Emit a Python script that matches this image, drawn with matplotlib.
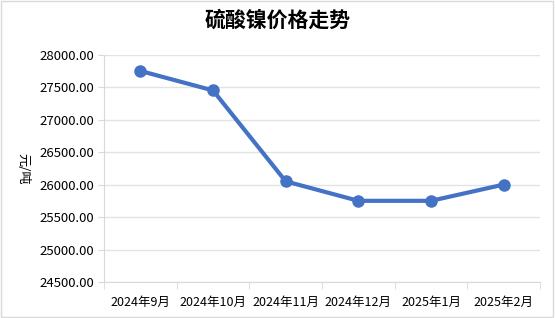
import matplotlib.pyplot as plt
from matplotlib.patches import Rectangle

plt.rcParams['font.family'] = ['Noto Sans CJK SC', 'DejaVu Sans']

months = ["2024年9月", "2024年10月", "2024年11月", "2024年12月", "2025年1月", "2025年2月"]
prices = [27750, 27450, 26050, 25750, 25750, 26000]
yticks = [24500, 25000, 25500, 26000, 26500, 27000, 27500, 28000]

fig = plt.figure(figsize=(5.55, 3.18), dpi=100)
ax = fig.add_axes([104 / 555, 1 - 282 / 318, 436 / 555, (282 - 54.7) / 318])

x = list(range(len(months)))
ax.plot(x, prices, color="#4472C4", linewidth=3, marker="o", markersize=8, zorder=3)

ax.set_xlim(-0.5, len(months) - 0.5)
ax.set_ylim(24500, 28000)
ax.set_yticks(yticks)
ax.set_yticklabels([f"{v:.2f}" for v in yticks], fontsize=9.5)
ax.set_xticks(x)
ax.set_xticklabels(months, fontsize=9)
ax.set_xticks([i - 0.5 for i in range(len(months) + 1)], minor=True)
ax.tick_params(axis="x", which="major", length=0, pad=10)
ax.tick_params(axis="x", which="minor", length=5, color="#d9d9d9")
ax.tick_params(axis="y", length=4, color="#d9d9d9", pad=3)
ax.grid(axis="y", color="#e3e3e3", linewidth=1)
ax.set_axisbelow(True)

for side in ["top", "right"]:
    ax.spines[side].set_visible(False)
ax.spines["left"].set_color("#d9d9d9")
ax.spines["bottom"].set_color("#d9d9d9")

ax.set_ylabel("元/吨", rotation=270, fontsize=9.5)
ax.yaxis.set_label_coords(-0.2, 0.5)

fig.text(0.5, 1 - 20 / 318, "硫酸镍价格走势", ha="center", va="center",
         fontsize=15, fontweight="bold")

fig.patches.append(Rectangle((0.002, 0.002), 0.995, 0.995, transform=fig.transFigure,
                             fill=False, edgecolor="#d9d9d9", linewidth=1))

fig.savefig("out.png", dpi=100)
